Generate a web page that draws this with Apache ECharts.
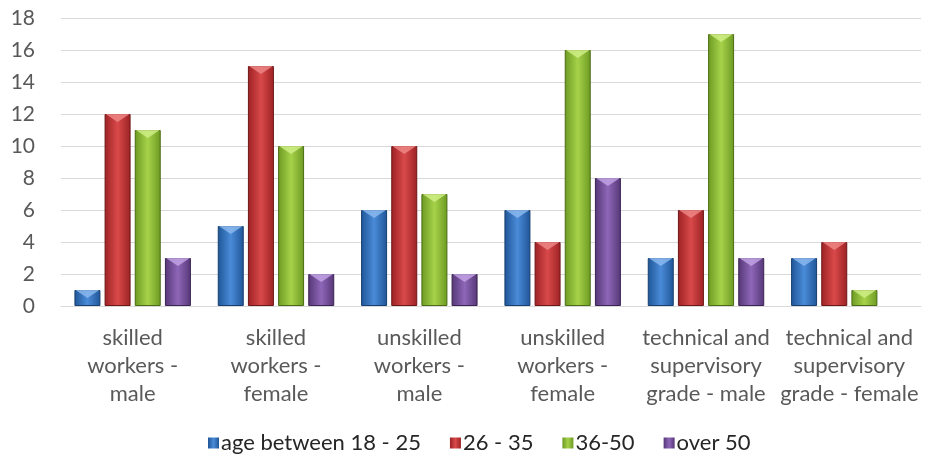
<!DOCTYPE html>
<html>
<head>
<meta charset="utf-8">
<script src="https://cdn.jsdelivr.net/npm/echarts@6/dist/echarts.min.js"></script>
<style>html,body{margin:0;padding:0;background:#fff}#c{width:930px;height:465px}</style>
</head>
<body>
<div id="c"></div>
<script>
var categories = [
  "skilled\nworkers -\nmale",
  "skilled\nworkers -\nfemale",
  "unskilled\nworkers -\nmale",
  "unskilled\nworkers -\nfemale",
  "technical and\nsupervisory\ngrade - male",
  "technical and\nsupervisory\ngrade - female"
];
var seriesNames = ["age between 18 - 25", "26 - 35", "36-50", "over 50"];
var age18to25 = [1, 5, 6, 6, 3, 3];
var age26to35 = [12, 15, 10, 4, 6, 4];
var age36to50 = [11, 10, 7, 16, 17, 1];
var over50 = [3, 2, 2, 8, 3, null];
var yTicks = { min: 0, max: 18, interval: 2 };

var palettes = [
  { edge: "#1f5597", mid: "#4a8bd8", border: "#173f70", top: "#8fbcf0" },
  { edge: "#9c2224", mid: "#d9494a", border: "#6e1618", top: "#f08a8a" },
  { edge: "#6c9a22", mid: "#a6d24a", border: "#4b6c15", top: "#d2f08a" },
  { edge: "#553676", mid: "#8e67b8", border: "#3b2454", top: "#c4a6e6" }
];
function grad(p) {
  return new echarts.graphic.LinearGradient(0, 0, 1, 0, [
    { offset: 0, color: p.edge },
    { offset: 0.5, color: p.mid },
    { offset: 1, color: p.edge }
  ]);
}
var allData = [age18to25, age26to35, age36to50, over50];
var series = [];
allData.forEach(function (d, i) {
  series.push({
    name: seriesNames[i],
    type: "bar",
    data: d,
    barWidth: 26,
    barGap: "16%",
    itemStyle: { color: grad(palettes[i]), borderColor: palettes[i].border, borderWidth: 1 }
  });
});
allData.forEach(function (d, i) {
  series.push({
    name: seriesNames[i],
    type: "pictorialBar",
    data: d,
    barWidth: 26,
    barGap: "16%",
    symbol: "path://M0,0 L10,0 L5,3.2 Z",
    symbolSize: [24, 8],
    symbolPosition: "end",
    z: 3,
    silent: true,
    itemStyle: { color: palettes[i].top, opacity: 0.8 }
  });
});

var chart = echarts.init(document.getElementById("c"));
chart.setOption({
  animation: false,
  grid: { left: 61, right: 9, top: 18, bottom: 159 },
  legend: {
    bottom: 6,
    left: 203,
    itemWidth: 11,
    itemHeight: 11,
    itemGap: 29,
    icon: "rect",
    textStyle: { fontFamily: "Lato", fontSize: 22, color: "#262626", padding: [0, 0, 0, -3] },
    data: seriesNames.map(function (n, i) {
      return { name: n, itemStyle: { color: grad(palettes[i]), borderWidth: 0 } };
    })
  },
  xAxis: {
    type: "category",
    data: categories,
    axisLine: { lineStyle: { color: "#d9d9d9", width: 1 } },
    axisTick: { show: false },
    axisLabel: { margin: 18, fontFamily: "Lato", fontSize: 22, lineHeight: 28, color: "#595959", interval: 0 }
  },
  yAxis: {
    type: "value",
    min: yTicks.min,
    max: yTicks.max,
    interval: yTicks.interval,
    axisLine: { show: false },
    axisTick: { show: false },
    splitLine: { lineStyle: { color: "#d9d9d9", width: 1 } },
    axisLabel: { margin: 26, fontFamily: "Lato", fontSize: 21, color: "#595959" }
  },
  series: series
});
</script>
</body>
</html>
